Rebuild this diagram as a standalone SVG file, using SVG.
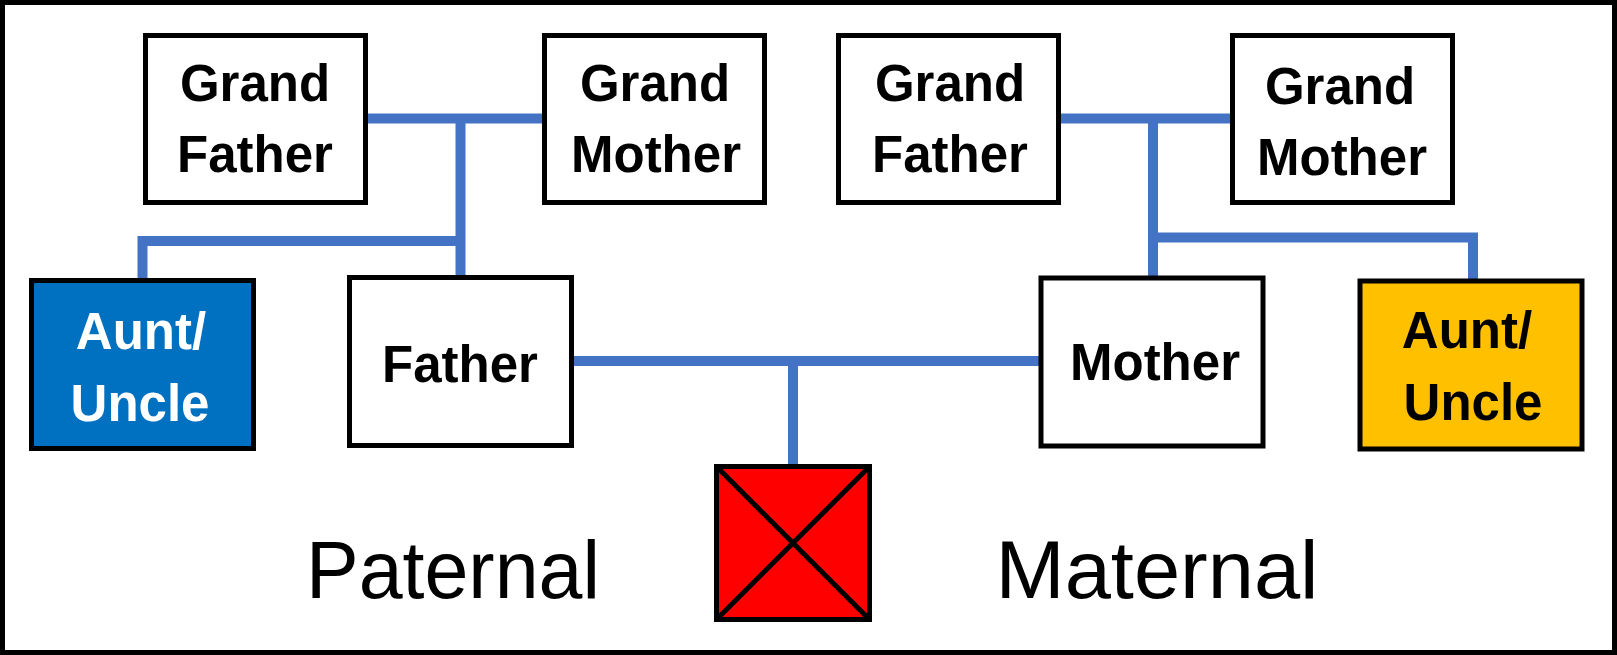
<svg xmlns="http://www.w3.org/2000/svg" width="1617" height="655" viewBox="0 0 1617 655">
<style>
.box{stroke:#000;stroke-width:5;fill:#fff}
.lbl{font-family:"Liberation Sans",Arial,sans-serif;font-weight:bold;font-size:51px;text-anchor:middle;fill:#000}
.big{font-family:"Liberation Sans",Arial,sans-serif;font-size:81px;text-anchor:middle;fill:#000}
.con{stroke:#4472C4;stroke-width:10;fill:none}
</style>
<rect x="0" y="0" width="1617" height="655" fill="#fff"/>
<rect x="2.5" y="2.5" width="1612" height="650" fill="none" stroke="#000" stroke-width="5"/>
<g id="connectors">
<path class="con" d="M368 118.6H542"/>
<path class="con" d="M460.5 118.6V276"/>
<path class="con" d="M460.5 241H142.5V279"/>
<path class="con" d="M1060 118.6H1230"/>
<path class="con" d="M1153 118.6V277"/>
<path class="con" d="M1153 237.5H1473V280"/>
<path class="con" d="M574 361H1039"/>
<path class="con" d="M793 361V465"/>
</g>
<g id="pgf">
<rect class="box" x="145.5" y="35.5" width="220" height="167"/>
<text class="lbl" x="255" y="101">Grand</text>
<text class="lbl" x="255" y="172">Father</text>
</g>
<g id="pgm">
<rect class="box" x="544.5" y="35.5" width="220" height="167"/>
<text class="lbl" x="655" y="101">Grand</text>
<text class="lbl" x="656" y="172">Mother</text>
</g>
<g id="mgf">
<rect class="box" x="838.5" y="35.5" width="220" height="167"/>
<text class="lbl" x="950" y="101">Grand</text>
<text class="lbl" x="950" y="172">Father</text>
</g>
<g id="mgm">
<rect class="box" x="1232.5" y="35.5" width="220" height="167"/>
<text class="lbl" x="1340" y="104">Grand</text>
<text class="lbl" x="1342" y="175">Mother</text>
</g>
<g id="paunt">
<rect class="box" x="31.5" y="280.5" width="222" height="168" style="fill:#0070C0"/>
<text class="lbl" x="141" y="349" style="fill:#fff">Aunt/</text>
<text class="lbl" x="140" y="421" style="fill:#fff">Uncle</text>
</g>
<g id="father">
<rect class="box" x="349.5" y="277.5" width="222" height="168"/>
<text class="lbl" x="460" y="382">Father</text>
</g>
<g id="mother">
<rect class="box" x="1041" y="278" width="222" height="168"/>
<text class="lbl" x="1155" y="380">Mother</text>
</g>
<g id="maunt">
<rect class="box" x="1360" y="281" width="222" height="168" style="fill:#FFC000"/>
<text class="lbl" x="1467" y="348">Aunt/</text>
<text class="lbl" x="1473" y="420">Uncle</text>
</g>
<g id="child">
<rect class="box" x="716.5" y="466.5" width="153" height="153" style="fill:#FF0000"/>
<path d="M716.5 466.5L869.5 619.5M869.5 466.5L716.5 619.5" stroke="#000" stroke-width="5"/>
</g>
<g id="labels">
<text class="big" x="453" y="598" textLength="294" lengthAdjust="spacingAndGlyphs">Paternal</text>
<text class="big" x="1157" y="598" textLength="323" lengthAdjust="spacingAndGlyphs">Maternal</text>
</g>
</svg>
